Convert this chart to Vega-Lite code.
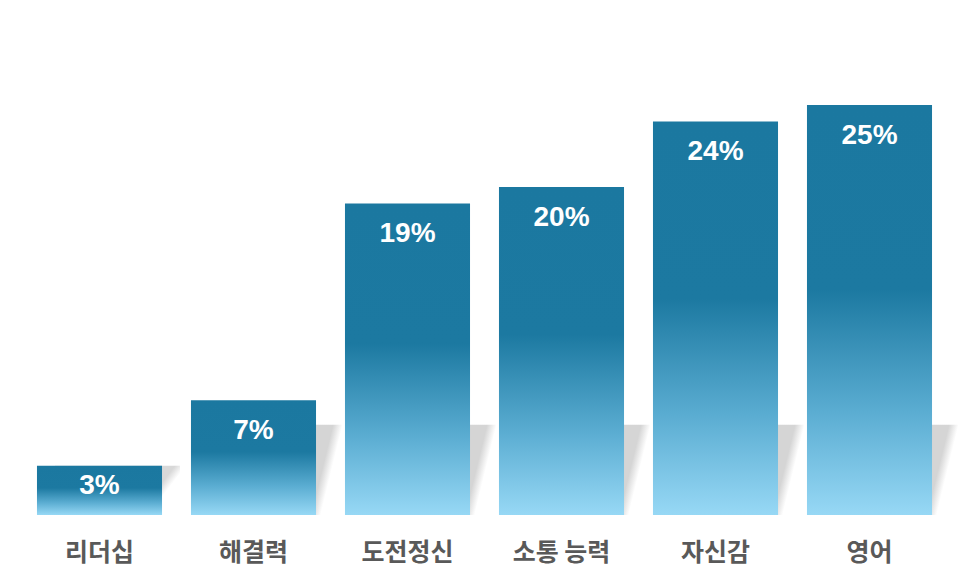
{
  "$schema": "https://vega.github.io/schema/vega-lite/v6.json",
  "autosize": "none",
  "width": 924,
  "height": 492,
  "padding": {"left": 22.5, "top": 23, "right": 23.5, "bottom": 72},
  "background": "white",
  "config": {"view": {"stroke": null}},
  "data": {"values": [
    {"skill": "리더십", "share": 0.03},
    {"skill": "해결력", "share": 0.07},
    {"skill": "도전정신", "share": 0.19},
    {"skill": "소통 능력", "share": 0.20},
    {"skill": "자신감", "share": 0.24},
    {"skill": "영어", "share": 0.25}
  ]},
  "encoding": {
    "x": {"field": "skill", "type": "nominal", "sort": ["리더십", "해결력", "도전정신", "소통 능력", "자신감", "영어"],
      "scale": {"paddingInner": 0.188, "paddingOuter": 0.094},
      "axis": {"title": null, "domain": false, "ticks": false, "labelAngle": 0,
        "labelFont": "Noto Sans CJK KR", "labelFontSize": 25, "labelFontWeight": "bold",
        "labelColor": "#595959", "labelPadding": 25}},
    "y": {"field": "share", "type": "quantitative", "scale": {"domain": [0, 0.30]}, "axis": null}
  },
  "layer": [
    {"transform": [{"filter": "datum.share >= 0.05"}],
      "mark": {"type": "bar", "xOffset": 26, "color": {"gradient": "linear", "x1": 0, "y1": 0, "x2": 1, "y2": 0.176,
        "stops": [{"offset": 0, "color": "#d5d5d5"}, {"offset": 0.9, "color": "#d5d5d5"}, {"offset": 0.975, "color": "#ffffff"}, {"offset": 1, "color": "#ffffff"}]}},
      "encoding": {"y": {"datum": 0.055, "type": "quantitative"}, "y2": {"datum": 0}}},
    {"transform": [{"filter": "datum.share < 0.05"}],
      "mark": {"type": "bar", "xOffset": 18, "color": {"gradient": "linear", "x1": 0, "y1": 0, "x2": 1, "y2": 0.3,
        "stops": [{"offset": 0, "color": "#d8d8d8"}, {"offset": 0.88, "color": "#d8d8d8"}, {"offset": 0.96, "color": "#ffffff"}, {"offset": 1, "color": "#ffffff"}]}},
      "encoding": {"y2": {"datum": 0}}},
    {"mark": {"type": "bar", "color": {"gradient": "linear", "x1": 0, "y1": 0, "x2": 0, "y2": 1,
      "stops": [{"offset": 0, "color": "#1b78a0"}, {"offset": 0.45, "color": "#1c79a1"}, {"offset": 0.75, "color": "#5badd2"}, {"offset": 1, "color": "#97d8f5"}]}}},
    {"transform": [{"filter": "datum.share >= 0.05"}],
      "mark": {"type": "text", "color": "white", "font": "Liberation Sans", "fontWeight": "bold", "fontSize": 28, "baseline": "middle", "dy": 31},
      "encoding": {"text": {"field": "share", "type": "quantitative", "format": ".0%"}}},
    {"transform": [{"filter": "datum.share < 0.05"}],
      "mark": {"type": "text", "color": "white", "font": "Liberation Sans", "fontWeight": "bold", "fontSize": 28, "baseline": "middle", "dy": 20},
      "encoding": {"text": {"field": "share", "type": "quantitative", "format": ".0%"}}}
  ]
}
